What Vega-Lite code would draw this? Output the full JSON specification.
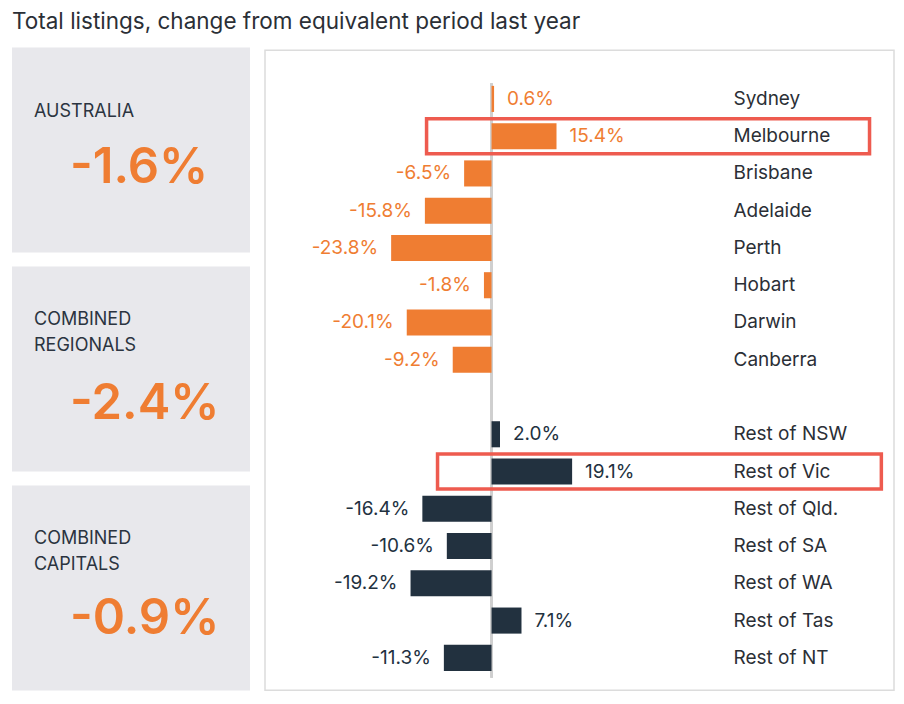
{
  "$schema": "https://vega.github.io/schema/vega-lite/v6.json",
  "background": "white",
  "padding": {"left": 12, "top": 10, "right": 5, "bottom": 0},
  "title": {"text": "Total listings, change from equivalent period last year", "anchor": "start", "frame": "group", "font": "Inter", "fontSize": 22.5, "fontWeight": "normal", "color": "#2b2f36", "offset": 14},
  "datasets": {
    "panels": [
      {"panel": "Australia", "kind": "label", "text": "AUSTRALIA"},
      {"panel": "Australia", "kind": "value", "text": "-1.6%"},
      {"panel": "Regionals", "kind": "label", "text": "COMBINED\nREGIONALS"},
      {"panel": "Regionals", "kind": "value", "text": "-2.4%"},
      {"panel": "Capitals", "kind": "label", "text": "COMBINED\nCAPITALS"},
      {"panel": "Capitals", "kind": "value", "text": "-0.9%"}
    ],
    "regions": [
      {"region": "Sydney", "group": "Capital", "change": 0.6, "label": "0.6%"},
      {"region": "Melbourne", "group": "Capital", "change": 15.4, "label": "15.4%"},
      {"region": "Brisbane", "group": "Capital", "change": -6.5, "label": "-6.5%"},
      {"region": "Adelaide", "group": "Capital", "change": -15.8, "label": "-15.8%"},
      {"region": "Perth", "group": "Capital", "change": -23.8, "label": "-23.8%"},
      {"region": "Hobart", "group": "Capital", "change": -1.8, "label": "-1.8%"},
      {"region": "Darwin", "group": "Capital", "change": -20.1, "label": "-20.1%"},
      {"region": "Canberra", "group": "Capital", "change": -9.2, "label": "-9.2%"},
      {"region": "Rest of NSW", "group": "Regional", "change": 2.0, "label": "2.0%"},
      {"region": "Rest of Vic", "group": "Regional", "change": 19.1, "label": "19.1%"},
      {"region": "Rest of Qld.", "group": "Regional", "change": -16.4, "label": "-16.4%"},
      {"region": "Rest of SA", "group": "Regional", "change": -10.6, "label": "-10.6%"},
      {"region": "Rest of WA", "group": "Regional", "change": -19.2, "label": "-19.2%"},
      {"region": "Rest of Tas", "group": "Regional", "change": 7.1, "label": "7.1%"},
      {"region": "Rest of NT", "group": "Regional", "change": -11.3, "label": "-11.3%"}
    ],
    "highlights": [
      {"region": "Melbourne", "from": -15.4, "to": 89.6},
      {"region": "Rest of Vic", "from": -12.8, "to": 92.4}
    ]
  },
  "spacing": 14,
  "center": true,
  "hconcat": [
    {
      "spacing": 14,
      "resolve": {"scale": {"x": "independent", "y": "independent"}},
      "vconcat": [
        {
          "width": 238, "height": 205,
          "view": {"fill": "#e8e8ec", "stroke": null},
          "data": {"name": "panels"},
          "transform": [{"filter": "datum.panel === 'Australia'"}],
          "encoding": {
            "x": {"field": "kind", "type": "nominal", "scale": {"type": "point", "domain": ["label", "value"], "range": [22, 58], "padding": 0}, "axis": null},
            "y": {"field": "kind", "type": "nominal", "scale": {"type": "point", "domain": ["label", "value"], "range": [65, 120.5], "padding": 0}, "axis": null},
            "text": {"field": "text"}
          },
          "layer": [
            {"transform": [{"filter": "datum.kind === 'label'"}], "mark": {"type": "text", "align": "left", "baseline": "middle", "lineBreak": "\n", "lineHeight": 26, "font": "Inter", "fontSize": 18, "color": "#2b3440"}},
            {"transform": [{"filter": "datum.kind === 'value'"}], "mark": {"type": "text", "align": "left", "baseline": "middle", "font": "Inter", "fontSize": 49, "letterSpacing": -2.5, "fontWeight": 600, "color": "#ef7d32"}}
          ]
        },
        {
          "width": 238, "height": 205,
          "view": {"fill": "#e8e8ec", "stroke": null},
          "data": {"name": "panels"},
          "transform": [{"filter": "datum.panel === 'Regionals'"}],
          "encoding": {
            "x": {"field": "kind", "type": "nominal", "scale": {"type": "point", "domain": ["label", "value"], "range": [22, 58], "padding": 0}, "axis": null},
            "y": {"field": "kind", "type": "nominal", "scale": {"type": "point", "domain": ["label", "value"], "range": [54, 138], "padding": 0}, "axis": null},
            "text": {"field": "text"}
          },
          "layer": [
            {"transform": [{"filter": "datum.kind === 'label'"}], "mark": {"type": "text", "align": "left", "baseline": "middle", "lineBreak": "\n", "lineHeight": 26, "font": "Inter", "fontSize": 18, "color": "#2b3440"}},
            {"transform": [{"filter": "datum.kind === 'value'"}], "mark": {"type": "text", "align": "left", "baseline": "middle", "font": "Inter", "fontSize": 49, "letterSpacing": -2.5, "fontWeight": 600, "color": "#ef7d32"}}
          ]
        },
        {
          "width": 238, "height": 205,
          "view": {"fill": "#e8e8ec", "stroke": null},
          "data": {"name": "panels"},
          "transform": [{"filter": "datum.panel === 'Capitals'"}],
          "encoding": {
            "x": {"field": "kind", "type": "nominal", "scale": {"type": "point", "domain": ["label", "value"], "range": [22, 58], "padding": 0},
                  "axis": {"orient": "bottom", "values": ["value"], "labelExpr": "'.'", "labelColor": "white", "labelFontSize": 11, "labelPadding": 0, "domain": false, "ticks": false, "grid": false, "title": null}},
            "y": {"field": "kind", "type": "nominal", "scale": {"type": "point", "domain": ["label", "value"], "range": [54, 133.5], "padding": 0}, "axis": null},
            "text": {"field": "text"}
          },
          "layer": [
            {"transform": [{"filter": "datum.kind === 'label'"}], "mark": {"type": "text", "align": "left", "baseline": "middle", "lineBreak": "\n", "lineHeight": 26, "font": "Inter", "fontSize": 18, "color": "#2b3440"}},
            {"transform": [{"filter": "datum.kind === 'value'"}], "mark": {"type": "text", "align": "left", "baseline": "middle", "font": "Inter", "fontSize": 49, "letterSpacing": -2.5, "fontWeight": 600, "color": "#ef7d32"}}
          ]
        }
      ]
    },
    {
      "width": 629, "height": 640,
      "view": {"fill": "white", "stroke": "#dcdcdc", "strokeWidth": 1.5},
      "data": {"name": "regions"},
      "encoding": {
        "y": {
          "field": "region", "type": "nominal",
          "scale": {
            "type": "band",
            "domain": ["Sydney", "Melbourne", "Brisbane", "Adelaide", "Perth", "Hobart", "Darwin", "Canberra", " ", "Rest of NSW", "Rest of Vic", "Rest of Qld.", "Rest of SA", "Rest of WA", "Rest of Tas", "Rest of NT"],
            "paddingInner": 0.3, "paddingOuter": 0.738, "align": 0.65
          },
          "axis": {"orient": "left", "title": null, "domain": false, "ticks": false, "tickSize": 0, "labelAlign": "left", "labelPadding": -468, "labelFont": "Inter", "labelFontSize": 19, "labelColor": "#2b2f36", "labelBaseline": "middle"}
        }
      },
      "layer": [
        {
          "mark": {"type": "rule", "color": "#cfcfcf", "strokeWidth": 1.5},
          "encoding": {
            "x": {"datum": 0, "type": "quantitative", "scale": {"domain": [-53.7, 95.4], "nice": false, "zero": false}, "axis": null},
            "y": {"datum": "Sydney", "bandPosition": -0.1},
            "y2": {"datum": "Rest of NT", "bandPosition": 1.25}
          }
        },
        {
          "mark": {"type": "bar"},
          "encoding": {
            "x": {"field": "change", "type": "quantitative"},
            "color": {"field": "group", "type": "nominal", "scale": {"domain": ["Capital", "Regional"], "range": ["#ef7d32", "#22313f"]}, "legend": null}
          }
        },
        {
          "transform": [{"filter": "datum.change >= 0"}],
          "mark": {"type": "text", "align": "left", "baseline": "middle", "dx": 13, "font": "Inter", "fontSize": 19},
          "encoding": {
            "x": {"field": "change", "type": "quantitative"},
            "text": {"field": "label"},
            "color": {"field": "group", "type": "nominal", "legend": null}
          }
        },
        {
          "transform": [{"filter": "datum.change < 0"}],
          "mark": {"type": "text", "align": "right", "baseline": "middle", "dx": -13, "font": "Inter", "fontSize": 19},
          "encoding": {
            "x": {"field": "change", "type": "quantitative"},
            "text": {"field": "label"},
            "color": {"field": "group", "type": "nominal", "legend": null}
          }
        },
        {
          "data": {"name": "highlights"},
          "mark": {"type": "bar", "height": 35, "fill": null, "fillOpacity": 0, "stroke": "#ee5b4f", "strokeWidth": 3.5},
          "encoding": {
            "x": {"field": "from", "type": "quantitative"},
            "x2": {"field": "to"}
          }
        }
      ]
    }
  ],
  "config": {"font": "Inter"}
}
